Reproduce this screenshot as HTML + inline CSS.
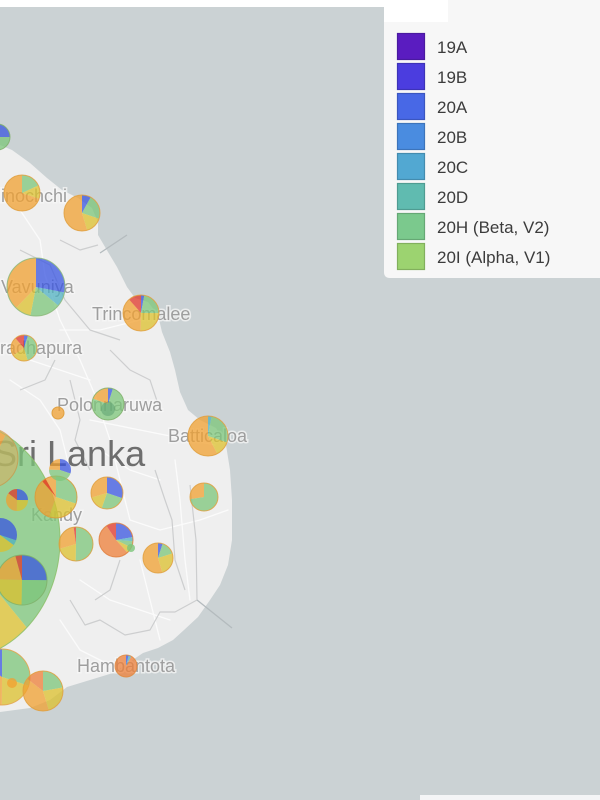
<!DOCTYPE html>
<html><head><meta charset="utf-8"><style>
html,body{margin:0;padding:0;background:#cbd2d4;}
svg{display:block;}
.s{fill:none;stroke-opacity:.75}
.o{stroke:#f0a030}.y{stroke:#dcc02c}.g{stroke:#7cc57a}.b{stroke:#3a56e0}.t{stroke:#4fb0c0}.r{stroke:#e0352a}.d{stroke:#ee7f38}
.ol{fill:none;stroke-width:1;stroke-opacity:.85}
.lb{font-family:"Liberation Sans",sans-serif;font-size:18px;fill:#9e9e9e;stroke:#f8f8f8;stroke-width:3;stroke-opacity:.7;paint-order:stroke;}
.lg{font-family:"Liberation Sans",sans-serif;font-size:17px;fill:#3c3c3c;}
</style></head><body>
<svg width="600" height="800" viewBox="0 0 600 800" xmlns="http://www.w3.org/2000/svg">
<rect x="0" y="0" width="600" height="800" fill="#cbd2d4"/>
<rect x="0" y="0" width="600" height="7" fill="#ffffff"/>
<!-- land -->
<path d="M0,145 L12,150 L30,163 L47,178 L62,190 L78,198 L92,208 L98,222 L98,235 L108,252 L117,267 L127,287 L135,298 L148,302 L158,315 L162,332 L170,352 L175,370 L180,392 L188,410 L200,420 L216,428 L226,445 L230,470 L232,500 L232,540 L228,565 L220,585 L210,600 L198,617 L184,630 L173,640 L158,648 L143,653 L128,663 L113,673 L90,680 L67,687 L50,700 L30,708 L0,712 Z" fill="#efefef"/>
<!-- roads -->
<g fill="none" stroke="#fbfbfb" stroke-width="1.3" stroke-linecap="round" stroke-linejoin="round">
<path d="M20,210 L40,240 L45,275 L60,320 L80,360 L95,395 L110,440 L120,480 L130,520"/>
<path d="M60,330 L100,330 L140,320"/>
<path d="M90,420 L140,430 L190,440 L215,445"/>
<path d="M10,380 L40,400 L60,430 L70,470"/>
<path d="M130,520 L160,530 L200,520 L228,510"/>
<path d="M80,580 L110,600 L140,610 L170,620"/>
<path d="M60,620 L80,650 L110,665"/>
<path d="M140,560 L150,600 L160,640"/>
<path d="M175,460 L180,500 L185,560 L190,600"/>
<path d="M100,450 L130,470 L160,480"/>
<path d="M30,360 L60,370 L90,380"/>
</g>
<!-- district borders -->
<g fill="none" stroke="#cdcecf" stroke-width="1.2" stroke-linejoin="round">
<path d="M190,485 L196,540 L197,600 L175,612 L160,612 L150,630 L125,635 L100,620 L85,625 L70,600"/>
<path d="M155,470 L165,500 L172,520 L175,560 L185,590"/>
<path d="M70,380 L80,420 L75,440 L90,470"/>
<path d="M60,240 L80,250 L98,245"/>
<path d="M20,250 L50,265 L65,300 L90,330 L120,340"/>
<path d="M110,350 L130,370 L150,380 L160,410"/>
<path d="M120,560 L110,590 L95,600"/>
<path d="M20,390 L45,380 L55,360"/>
</g>
<g fill="none" stroke="#b4bbbe" stroke-width="1.3">
<path d="M100,253 L127,235"/>
<path d="M197,600 L232,628"/>
</g>
<!-- labels -->
<text class="lb" x="-19" y="202">Kilinochchi</text>
<text class="lb" x="1" y="293">Vavuniya</text>
<text class="lb" x="92" y="320">Trincomalee</text>
<text class="lb" x="-32" y="354">Anuradhapura</text>
<text class="lb" x="57" y="411">Polonnaruwa</text>
<text class="lb" x="168" y="442">Batticaloa</text>
<text class="lb" x="31" y="521">Kandy</text>
<text class="lb" x="77" y="672">Hambantota</text>
<text x="-7" y="466" font-family="Liberation Sans, sans-serif" font-size="36" fill="#6e6e6e">Sri Lanka</text>

<!-- big pie -->
<g transform="translate(-45,540) scale(1,1.143) rotate(-90)">
<circle class="s o" r="52.5" stroke-width="105" stroke-dasharray="26.39 329.87" stroke-dashoffset="0"/>
<circle class="s g" r="52.5" stroke-width="105" stroke-dasharray="98.96 329.87" stroke-dashoffset="-26.39"/>
<circle class="s y" r="52.5" stroke-width="105" stroke-dasharray="72.57 329.87" stroke-dashoffset="-125.35"/>
<circle class="s o" r="52.5" stroke-width="105" stroke-dasharray="131.95 329.87" stroke-dashoffset="-197.92"/>
<circle class="ol" r="105" stroke="#8cbf6a" vector-effect="non-scaling-stroke"/>
</g>
<circle cx="-12" cy="458" r="30" fill="#e8a650" fill-opacity=".45" stroke="#d08c3a" stroke-opacity=".6"/>

<!-- pie 23 (2,677) R28 -->
<g transform="translate(2,677) rotate(-90)">
<circle class="s g" r="14" stroke-width="28" stroke-dasharray="26.39 87.96"/>
<circle class="s y" r="14" stroke-width="28" stroke-dasharray="17.59 87.96" stroke-dashoffset="-26.39"/>
<circle class="s o" r="14" stroke-width="28" stroke-dasharray="30.79 87.96" stroke-dashoffset="-43.98"/>
<circle class="s b" r="14" stroke-width="28" stroke-dasharray="13.19 87.96" stroke-dashoffset="-74.77"/>
<circle class="ol" r="28" stroke="#e3a24a"/>
</g>
<!-- pie 4 Vavuniya -->
<g transform="translate(36,287) rotate(-90)">
<circle class="s b" r="14.5" stroke-width="29" stroke-dasharray="25.51 91.11"/>
<circle class="s t" r="14.5" stroke-width="29" stroke-dasharray="7.29 91.11" stroke-dashoffset="-25.51"/>
<circle class="s g" r="14.5" stroke-width="29" stroke-dasharray="15.49 91.11" stroke-dashoffset="-32.80"/>
<circle class="s y" r="14.5" stroke-width="29" stroke-dasharray="8.20 91.11" stroke-dashoffset="-48.29"/>
<circle class="s o" r="14.5" stroke-width="29" stroke-dasharray="34.62 91.11" stroke-dashoffset="-56.49"/>
<circle class="ol" r="29" stroke="#8cb87a"/>
</g>
<!-- pie 22 (22,580) R25 -->
<g transform="translate(22,580) rotate(-90)">
<circle class="s b" r="12.5" stroke-width="25" stroke-dasharray="19.63 78.54"/>
<circle class="s g" r="12.5" stroke-width="25" stroke-dasharray="19.63 78.54" stroke-dashoffset="-19.63"/>
<circle class="s y" r="12.5" stroke-width="25" stroke-dasharray="19.63 78.54" stroke-dashoffset="-39.27"/>
<circle class="s o" r="12.5" stroke-width="25" stroke-dasharray="15.71 78.54" stroke-dashoffset="-58.90"/>
<circle class="s r" r="12.5" stroke-width="25" stroke-dasharray="3.93 78.54" stroke-dashoffset="-74.61"/>
<circle class="ol" r="25" stroke="#7fb06a"/>
</g>
<!-- pie 19 Kandy (56,497) R21 -->
<g transform="translate(56,497) rotate(-90)">
<circle class="s g" r="10.5" stroke-width="21" stroke-dasharray="19.79 65.97"/>
<circle class="s y" r="10.5" stroke-width="21" stroke-dasharray="16.49 65.97" stroke-dashoffset="-19.79"/>
<circle class="s o" r="10.5" stroke-width="21" stroke-dasharray="29.69 65.97" stroke-dashoffset="-36.28"/>
<circle class="s r" r="10.5" stroke-width="21" stroke-dasharray="1.98 65.97" stroke-dashoffset="-58.05"/>
<circle class="ol" r="21" stroke="#d99a3a"/>
</g>
<!-- pie 21 (0,535) R17 -->
<g transform="translate(0,535) rotate(-90)">
<circle class="s b" r="8.5" stroke-width="17" stroke-dasharray="16.02 53.41"/>
<circle class="s t" r="8.5" stroke-width="17" stroke-dasharray="2.67 53.41" stroke-dashoffset="-16.02"/>
<circle class="s y" r="8.5" stroke-width="17" stroke-dasharray="34.72 53.41" stroke-dashoffset="-18.69"/>
</g>
<!-- pie 20 (17,500) R11 -->
<g transform="translate(17,500) rotate(-90)">
<circle class="s b" r="5.5" stroke-width="11" stroke-dasharray="8.64 34.56"/>
<circle class="s y" r="5.5" stroke-width="11" stroke-dasharray="8.64 34.56" stroke-dashoffset="-8.64"/>
<circle class="s o" r="5.5" stroke-width="11" stroke-dasharray="12.10 34.56" stroke-dashoffset="-17.28"/>
<circle class="s r" r="5.5" stroke-width="11" stroke-dasharray="5.18 34.56" stroke-dashoffset="-29.38"/>
</g>
<!-- pie 18 (60,470) R11 -->
<g transform="translate(60,470) rotate(-90)">
<circle class="s b" r="5.5" stroke-width="11" stroke-dasharray="10.37 34.56"/>
<circle class="s g" r="5.5" stroke-width="11" stroke-dasharray="15.55 34.56" stroke-dashoffset="-10.37"/>
<circle class="s o" r="5.5" stroke-width="11" stroke-dasharray="8.64 34.56" stroke-dashoffset="-25.92"/>
</g>
<!-- pie 24 (43,691) R20 -->
<g transform="translate(43,691) rotate(-90)">
<circle class="s g" r="10" stroke-width="20" stroke-dasharray="13.82 62.83"/>
<circle class="s y" r="10" stroke-width="20" stroke-dasharray="14.45 62.83" stroke-dashoffset="-13.82"/>
<circle class="s o" r="10" stroke-width="20" stroke-dasharray="25.13 62.83" stroke-dashoffset="-28.27"/>
<circle class="s d" r="10" stroke-width="20" stroke-dasharray="9.42 62.83" stroke-dashoffset="-53.41"/>
<circle class="ol" r="20" stroke="#e0a040"/>
</g>
<circle cx="12" cy="683" r="5" fill="#f0a030" fill-opacity=".75"/>
<!-- pie 1 (-3,137) R13 -->
<g transform="translate(-3,137) rotate(-90)">
<circle class="s b" r="6.5" stroke-width="13" stroke-dasharray="10.21 40.84"/>
<circle class="s g" r="6.5" stroke-width="13" stroke-dasharray="14.29 40.84" stroke-dashoffset="-10.21"/>
<circle class="s o" r="6.5" stroke-width="13" stroke-dasharray="16.34 40.84" stroke-dashoffset="-24.50"/>
<circle class="ol" r="13" stroke="#7fb06a"/>
</g>
<!-- pie 2 Kilinochchi -->
<g transform="translate(22,193) rotate(-90)">
<circle class="s g" r="9" stroke-width="18" stroke-dasharray="10.18 56.55"/>
<circle class="s y" r="9" stroke-width="18" stroke-dasharray="6.79 56.55" stroke-dashoffset="-10.18"/>
<circle class="s o" r="9" stroke-width="18" stroke-dasharray="39.59 56.55" stroke-dashoffset="-16.97"/>
<circle class="ol" r="18" stroke="#e0a040"/>
</g>
<!-- pie 3 (82,213) -->
<g transform="translate(82,213) rotate(-90)">
<circle class="s b" r="9" stroke-width="18" stroke-dasharray="4.52 56.55"/>
<circle class="s g" r="9" stroke-width="18" stroke-dasharray="12.44 56.55" stroke-dashoffset="-4.52"/>
<circle class="s y" r="9" stroke-width="18" stroke-dasharray="8.48 56.55" stroke-dashoffset="-16.97"/>
<circle class="s o" r="9" stroke-width="18" stroke-dasharray="31.10 56.55" stroke-dashoffset="-25.45"/>
<circle class="ol" r="18" stroke="#e0a040"/>
</g>
<!-- pie 5 Trincomalee -->
<g transform="translate(141,313) rotate(-90)">
<circle class="s b" r="9" stroke-width="18" stroke-dasharray="1.70 56.55"/>
<circle class="s g" r="9" stroke-width="18" stroke-dasharray="12.44 56.55" stroke-dashoffset="-1.70"/>
<circle class="s y" r="9" stroke-width="18" stroke-dasharray="14.14 56.55" stroke-dashoffset="-14.14"/>
<circle class="s o" r="9" stroke-width="18" stroke-dasharray="21.49 56.55" stroke-dashoffset="-28.28"/>
<circle class="s r" r="9" stroke-width="18" stroke-dasharray="6.79 56.55" stroke-dashoffset="-49.76"/>
<circle class="ol" r="18" stroke="#e0a040"/>
</g>
<!-- pie 6 Anuradhapura -->
<g transform="translate(24,348) rotate(-90)">
<circle class="s b" r="6.5" stroke-width="13" stroke-dasharray="2.04 40.84"/>
<circle class="s g" r="6.5" stroke-width="13" stroke-dasharray="16.34 40.84" stroke-dashoffset="-2.04"/>
<circle class="s y" r="6.5" stroke-width="13" stroke-dasharray="8.17 40.84" stroke-dashoffset="-18.38"/>
<circle class="s o" r="6.5" stroke-width="13" stroke-dasharray="9.39 40.84" stroke-dashoffset="-26.55"/>
<circle class="s r" r="6.5" stroke-width="13" stroke-dasharray="4.90 40.84" stroke-dashoffset="-35.94"/>
<circle class="ol" r="13" stroke="#e0a040"/>
</g>
<!-- pie 7 Polonnaruwa -->
<g transform="translate(108,404) rotate(-90)">
<circle class="s b" r="8" stroke-width="16" stroke-dasharray="2.51 50.27"/>
<circle class="s g" r="8" stroke-width="16" stroke-dasharray="37.70 50.27" stroke-dashoffset="-2.51"/>
<circle class="s o" r="8" stroke-width="16" stroke-dasharray="10.05 50.27" stroke-dashoffset="-40.22"/>
<circle class="ol" r="16" stroke="#7fb06a"/>
</g>
<circle cx="108" cy="409" r="7" fill="#5a9e70" fill-opacity=".5"/>
<circle cx="58" cy="413" r="6" fill="#f0a030" fill-opacity=".75" stroke="#e0a040"/>
<!-- pie 9 Batticaloa -->
<g transform="translate(208,436) rotate(-90)">
<circle class="s t" r="10" stroke-width="20" stroke-dasharray="1.88 62.83"/>
<circle class="s g" r="10" stroke-width="20" stroke-dasharray="16.96 62.83" stroke-dashoffset="-1.88"/>
<circle class="s y" r="10" stroke-width="20" stroke-dasharray="7.54 62.83" stroke-dashoffset="-18.85"/>
<circle class="s o" r="10" stroke-width="20" stroke-dasharray="36.44 62.83" stroke-dashoffset="-26.39"/>
<circle class="ol" r="20" stroke="#e0a040"/>
</g>
<!-- pie 10 (204,497) -->
<g transform="translate(204,497) rotate(-90)">
<circle class="s g" r="7" stroke-width="14" stroke-dasharray="31.67 43.98"/>
<circle class="s o" r="7" stroke-width="14" stroke-dasharray="12.31 43.98" stroke-dashoffset="-31.67"/>
<circle class="ol" r="14" stroke="#e0a040"/>
</g>
<!-- pie 11 (107,493) -->
<g transform="translate(107,493) rotate(-90)">
<circle class="s b" r="8" stroke-width="16" stroke-dasharray="15.08 50.27"/>
<circle class="s g" r="8" stroke-width="16" stroke-dasharray="12.57 50.27" stroke-dashoffset="-15.08"/>
<circle class="s y" r="8" stroke-width="16" stroke-dasharray="7.54 50.27" stroke-dashoffset="-27.65"/>
<circle class="s o" r="8" stroke-width="16" stroke-dasharray="15.08 50.27" stroke-dashoffset="-35.19"/>
<circle class="ol" r="16" stroke="#e0a040"/>
</g>
<!-- pie 12 (116,540) -->
<g transform="translate(116,540) rotate(-90)">
<circle class="s b" r="8.5" stroke-width="17" stroke-dasharray="11.75 53.41"/>
<circle class="s t" r="8.5" stroke-width="17" stroke-dasharray="2.14 53.41" stroke-dashoffset="-11.75"/>
<circle class="s g" r="8.5" stroke-width="17" stroke-dasharray="3.20 53.41" stroke-dashoffset="-13.89"/>
<circle class="s y" r="8.5" stroke-width="17" stroke-dasharray="3.20 53.41" stroke-dashoffset="-17.09"/>
<circle class="s d" r="8.5" stroke-width="17" stroke-dasharray="27.77 53.41" stroke-dashoffset="-20.30"/>
<circle class="s r" r="8.5" stroke-width="17" stroke-dasharray="5.34 53.41" stroke-dashoffset="-48.07"/>
<circle class="ol" r="17" stroke="#e08040"/>
</g>
<circle cx="131" cy="548" r="4" fill="#7cc57a" fill-opacity=".8"/>
<!-- pie 13 (76,544) -->
<g transform="translate(76,544) rotate(-90)">
<circle class="s g" r="8.5" stroke-width="17" stroke-dasharray="26.71 53.41"/>
<circle class="s y" r="8.5" stroke-width="17" stroke-dasharray="10.68 53.41" stroke-dashoffset="-26.71"/>
<circle class="s o" r="8.5" stroke-width="17" stroke-dasharray="14.42 53.41" stroke-dashoffset="-37.39"/>
<circle class="s r" r="8.5" stroke-width="17" stroke-dasharray="1.60 53.41" stroke-dashoffset="-51.81"/>
<circle class="ol" r="17" stroke="#d9a040"/>
</g>
<!-- pie 14 (158,558) -->
<g transform="translate(158,558) rotate(-90)">
<circle class="s b" r="7.5" stroke-width="15" stroke-dasharray="2.36 47.12"/>
<circle class="s g" r="7.5" stroke-width="15" stroke-dasharray="7.07 47.12" stroke-dashoffset="-2.36"/>
<circle class="s y" r="7.5" stroke-width="15" stroke-dasharray="11.78 47.12" stroke-dashoffset="-9.42"/>
<circle class="s o" r="7.5" stroke-width="15" stroke-dasharray="25.92 47.12" stroke-dashoffset="-21.21"/>
<circle class="ol" r="15" stroke="#e0a040"/>
</g>
<!-- pie 15 Hambantota -->
<g transform="translate(126,666) rotate(-90)">
<circle class="s b" r="5.5" stroke-width="11" stroke-dasharray="1.38 34.56"/>
<circle class="s t" r="5.5" stroke-width="11" stroke-dasharray="1.38 34.56" stroke-dashoffset="-1.38"/>
<circle class="s d" r="5.5" stroke-width="11" stroke-dasharray="31.80 34.56" stroke-dashoffset="-2.76"/>
<circle class="ol" r="11" stroke="#e08a40"/>
</g>

<!-- bottom strip -->
<rect x="420" y="795" width="180" height="5" fill="#f4f5f6"/>

<!-- legend -->
<path d="M384,0 H600 V278 H390 Q384,278 384,272 Z" fill="#f7f7f7"/>
<rect x="384" y="0" width="64" height="22" fill="#ffffff"/>
<g stroke-width="1.2">
<rect x="397.5" y="33.5" width="27" height="26" fill="#5a1cc0" stroke="#4a1aa0"/>
<rect x="397.5" y="63.5" width="27" height="26" fill="#4b3ddf" stroke="#3d33b8"/>
<rect x="397.5" y="93.5" width="27" height="26" fill="#4868e6" stroke="#3b56c0"/>
<rect x="397.5" y="123.5" width="27" height="26" fill="#4a8ce0" stroke="#3d74bb"/>
<rect x="397.5" y="153.5" width="27" height="26" fill="#52a8d2" stroke="#448caf"/>
<rect x="397.5" y="183.5" width="27" height="26" fill="#60bbb0" stroke="#4f9c92"/>
<rect x="397.5" y="213.5" width="27" height="26" fill="#7bc98d" stroke="#66a875"/>
<rect x="397.5" y="243.5" width="27" height="26" fill="#9cd370" stroke="#82b05d"/>
</g>
<text class="lg" x="437" y="53">19A</text>
<text class="lg" x="437" y="83">19B</text>
<text class="lg" x="437" y="113">20A</text>
<text class="lg" x="437" y="143">20B</text>
<text class="lg" x="437" y="173">20C</text>
<text class="lg" x="437" y="203">20D</text>
<text class="lg" x="437" y="233">20H (Beta, V2)</text>
<text class="lg" x="437" y="263">20I (Alpha, V1)</text>
</svg>
</body></html>
